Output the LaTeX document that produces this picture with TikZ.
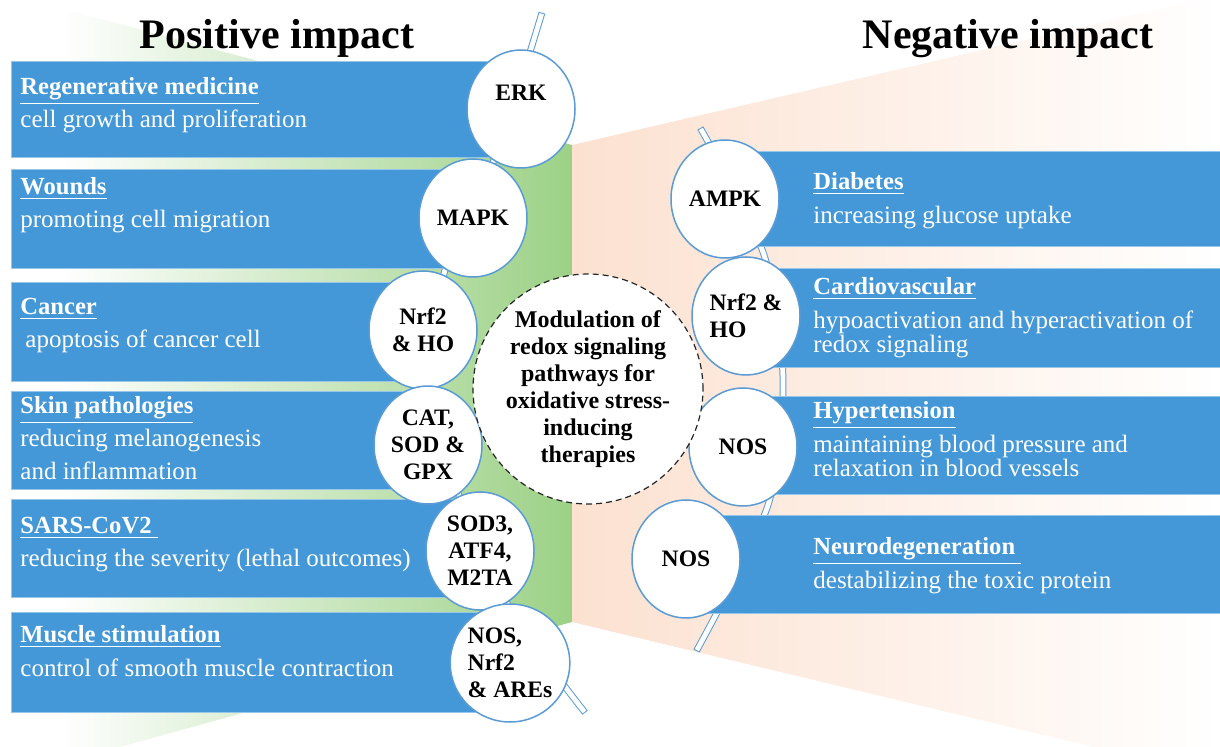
\documentclass[tikz,border=0pt]{standalone}
\usepackage{fontspec}
\setmainfont{Liberation Serif}
\usetikzlibrary{shapes.geometric}

\definecolor{barblue}{RGB}{68,152,215}
\definecolor{ringblue}{RGB}{91,155,213}
\definecolor{leafgreen}{RGB}{156,209,134}
\definecolor{peach}{RGB}{252,225,208}

\def\descsep{33}

\begin{document}
\begin{tikzpicture}[x=0.5pt, y=-0.5pt]
  \tikzstyle{bluebar}=[fill=barblue, draw=barblue!55!white, line width=0.5pt]
  \tikzstyle{rod}=[draw=ringblue, line width=0.5pt, double=white, double distance=2.4pt, line cap=rect]
  \tikzstyle{ring}=[ellipse, draw=ringblue, line width=0.75pt, fill=white, minimum width=54pt, minimum height=59pt, inner sep=0pt, align=center, font=\fontsize{11.8}{13.5}\selectfont\bfseries]
  \tikzstyle{ringtext}=[inner sep=0pt, font=\fontsize{11.8}{13.5}\selectfont\bfseries]
  \tikzstyle{hub}=[circle, draw=black!85, dash pattern=on 3pt off 2pt, line width=0.6pt, fill=white, minimum size=115pt, inner sep=0pt, align=center, font=\fontsize{12}{13.5}\selectfont\bfseries]
  \tikzstyle{barhead}=[anchor=base west, inner sep=0pt, text=white, font=\fontsize{12.3}{14}\selectfont\bfseries]
  \tikzstyle{bardesc}=[anchor=base west, inner sep=0pt, text=white, align=left, font=\fontsize{12.5}{16.5}\selectfont]
  \tikzstyle{bardesc tight}=[bardesc, font=\fontsize{12.5}{12}\selectfont]
  \tikzstyle{sidetitle}=[anchor=base, inner sep=0pt, font=\fontsize{21}{24}\selectfont\bfseries]

  \useasboundingbox (0,0) rectangle (1220,747);

  % Background fans behind both sides
  \shade[left color=white, middle color=leafgreen!80!white, right color=leafgreen]
    (60,8) -- (572,145) -- (572,622) -- (120,747) -- (60,747) -- cycle;
  \shade[left color=peach, right color=white]
    (572,145) -- (1198,0) -- (1220,0) -- (1220,747) -- (1093,747) -- (572,622) -- cycle;

  % Rods that string the rings together
  \draw[rod] plot[smooth] coordinates {(541,16) (498,150) (445,270) (430,390) (458,493) (512,612) (583,710)};
  \draw[rod] plot[smooth] coordinates {(702,131) (764,255) (783,380) (768,505) (698,648)};

  % Left bars
  \foreach \ya/\yb/\xe in {62/158/521, 170/269/473, 283/382/423, 392/490/428, 500/598/480, 613/712/508}
    \draw[bluebar] (11,\ya) rectangle (\xe,\yb);

  % Right bars
  \foreach \ya/\yb/\xa in {152/247/725, 269/368/746, 397/495/743, 516/614/686}
    \draw[bluebar] (\xa,\ya) rectangle (1222,\yb);

  % Rings on the positive side
  \node[ring] (erk) at (521,109) {};
  \node[ringtext] (erk-label) at ([yshift=8pt]erk.center) {ERK};
  \node[ring] (mapk) at (473,218) {MAPK};
  \node[ring] (nrf-pos) at (423,330) {Nrf2\\\& HO};
  \node[ring] (cat) at (428,445) {CAT,\\SOD \&\\GPX};
  \node[ring] (sod) at (480,551) {SOD3,\\ATF4,\\M2TA};
  \node[ring, align=left] (nos-pos) at (510,663) {NOS,\\Nrf2\\\& AREs};

  % Rings on the negative side
  \node[ring] (ampk) at (725,199) {AMPK};
  \node[ring, align=left] (nrf-neg) at (746,316) {Nrf2 \&\\HO};
  \node[ring] (nos-hyp) at (743,447) {NOS};
  \node[ring] (nos-neuro) at (686,559) {NOS};

  % Central topic
  \node[hub] (hub) at (588,389) {Modulation of\\redox signaling\\pathways for\\oxidative stress-\\inducing\\therapies};

  % Texts of the left bars (\dy: base of a two-line text sits on its last line)
  \foreach \name/\y/\dy/\head/\desc in {
      regen/95/0/Regenerative medicine/cell growth and proliferation,
      wounds/195/0/Wounds/promoting cell migration,
      cancer/315/0/Cancer/{\hspace{2.5pt}apoptosis of cancer cell},
      skin/414/33/Skin pathologies/{reducing melanogenesis\\and inflammation},
      sars/534/0/SARS-CoV2\ /reducing the severity (lethal outcomes),
      muscle/643/0/Muscle stimulation/control of smooth muscle contraction}
  {
    \node[barhead] (h-\name) at (20,\y) {\underline{\head}};
    \node[bardesc] (d-\name) at (20,\y+\descsep+\dy) {\desc};
  }

  % Texts of the right bars
  \foreach \name/\y/\dy/\head/\desc in {
      diabetes/190/0/Diabetes/increasing glucose uptake,
      cardio/295/24/Cardiovascular/{hypoactivation and hyperactivation of\\redox signaling},
      hyper/419/24/Hypertension/{maintaining blood pressure and\\relaxation in blood vessels},
      neuro/555/0/Neurodegeneration\ /destabilizing the toxic protein}
  {
    \node[barhead] (h-\name) at (813,\y) {\underline{\head}};
    \node[bardesc tight] (d-\name) at (813,\y+34+\dy) {\desc};
  }

  % Side titles
  \node[sidetitle] (pos-title) at (277,49) {Positive impact};
  \node[sidetitle] (neg-title) at (1008,49) {Negative impact};
\end{tikzpicture}
\end{document}
